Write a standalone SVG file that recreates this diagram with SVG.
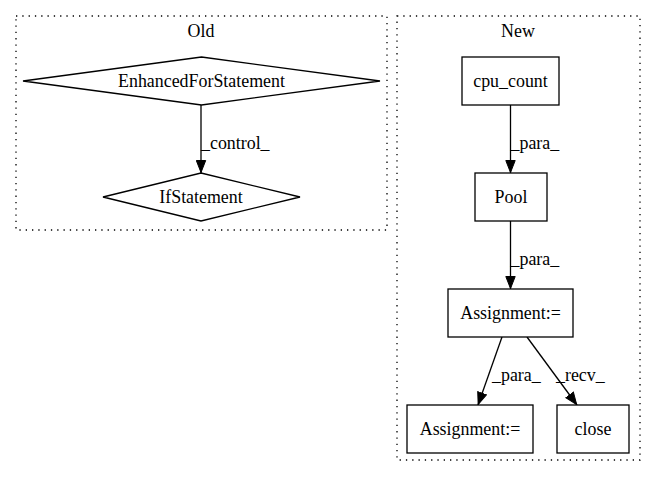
<svg xmlns="http://www.w3.org/2000/svg" width="656" height="480" viewBox="0 0 656 480">
<defs>
<style>
text{font-family:"Liberation Serif","Times New Roman",serif;font-size:17.9px;fill:#000}
.c{fill:none;stroke:#000;stroke-dasharray:1.3,5;stroke-width:1.3}
.n{fill:#fff;stroke:#000;stroke-width:1.3}
.e{fill:none;stroke:#000;stroke-width:1.3}
</style>
<marker id="ah" viewBox="0 0 13 11" refX="13" refY="5.5" markerWidth="13" markerHeight="11" markerUnits="userSpaceOnUse" orient="auto">
<path d="M0.5,0.8 L12.5,5.5 L0.5,10.2 Z" fill="#000" stroke="#000"/>
</marker>
</defs>
<rect width="656" height="480" fill="#fff"/>
<g id="cluster_old">
<rect class="c" x="16" y="16" width="371" height="214"/>
<text x="201" y="37" text-anchor="middle">Old</text>
</g>
<g id="cluster_new">
<rect class="c" x="397" y="16" width="243" height="444"/>
<text x="518" y="37" text-anchor="middle">New</text>
</g>
<g id="edges">
<path class="e" d="M201,105 L201,173" marker-end="url(#ah)"/>
<text x="201" y="149">_control_</text>
<path class="e" d="M510.5,105 L510.5,173" marker-end="url(#ah)"/>
<text x="510.5" y="149">_para_</text>
<path class="e" d="M510.5,221 L510.5,289" marker-end="url(#ah)"/>
<text x="510.5" y="265">_para_</text>
<path class="e" d="M502,337 L478,405" marker-end="url(#ah)"/>
<text x="492" y="381">_para_</text>
<path class="e" d="M527,337 L577,405" marker-end="url(#ah)"/>
<text x="556" y="381">_recv_</text>
</g>
<g id="node_enhancedfor">
<polygon class="n" points="201.5,57 380,81 201.5,105 23,81"/>
<text x="201.5" y="87" text-anchor="middle">EnhancedForStatement</text>
</g>
<g id="node_if">
<polygon class="n" points="201,173 300,197 201,221 103,197"/>
<text x="201" y="203" text-anchor="middle">IfStatement</text>
</g>
<g id="node_cpu_count">
<rect class="n" x="462" y="57" width="97" height="48"/>
<text x="510.5" y="87" text-anchor="middle">cpu_count</text>
</g>
<g id="node_pool">
<rect class="n" x="475" y="173" width="72" height="48"/>
<text x="511" y="203" text-anchor="middle">Pool</text>
</g>
<g id="node_assign1">
<rect class="n" x="448" y="289" width="125" height="48"/>
<text x="510.5" y="319" text-anchor="middle">Assignment:=</text>
</g>
<g id="node_assign2">
<rect class="n" x="407" y="405" width="126" height="48"/>
<text x="470" y="435" text-anchor="middle">Assignment:=</text>
</g>
<g id="node_close">
<rect class="n" x="557" y="405" width="72" height="48"/>
<text x="593" y="435" text-anchor="middle">close</text>
</g>
</svg>
